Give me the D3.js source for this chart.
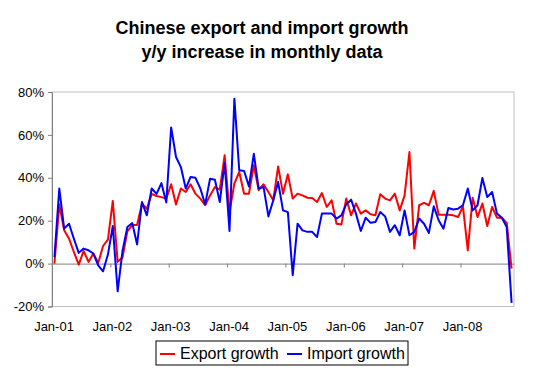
<!DOCTYPE html>
<html>
<head>
<meta charset="utf-8">
<script src="https://cdn.jsdelivr.net/npm/d3@7"></script>
<style>
  body { margin: 0; background: #fff; }
  svg { font-family: "Liberation Sans", Arial, sans-serif; }
</style>
</head>
<body>
<div id="chart"></div>
<script>
// Monthly y/y growth (%), Jan-01 .. Nov-08
const exportGrowth = [
  0, 27.5, 15.5, 11.6, 5.4, -0.5, 5.9, 0.8, 4.7, 0.3, 8.2, 11.2,
  29.2, 0.8, 3, 15, 18, 18, 28, 25.5, 32.5, 31.5, 31, 30.3,
  37, 27.6, 35, 33.4, 37, 32.6, 30.3, 27.2, 31.8, 35.7, 34.5, 50.5,
  24, 37.3, 42.7, 32.6, 32.6, 45.8, 34.2, 37, 33.4, 29.5, 45.3, 32.6,
  41.6, 30.3, 32.6, 31.8, 30.7, 30.6, 28.7, 32.9, 26.4, 29.5, 18.6, 18.2,
  30.3, 22.5, 28, 23.3, 24.8, 23, 22.5, 32.3, 30.3, 29.5, 32.6, 24.8,
  31.8, 52, 7, 27.2, 28.3, 27.2, 33.9, 22.8, 22.8, 22.8, 22.5, 21.7,
  26.7, 6.2, 30.7, 21.7, 28, 17.5, 26.4, 21.4, 21.4, 19, -2.3
];
const importGrowth = [
  3, 35, 16.3, 18.6, 11.6, 5, 7, 6.2, 4.7, -0.8, -3.6, 4.2,
  17.5, -12.9, 5.9, 17.1, 18.9, 8.9, 28.7, 22.5, 35, 32.5, 37.5, 28.5,
  63.5, 49.7, 45, 35, 40.4, 40, 35, 27.6, 39.6, 39.1, 28.7, 46.9,
  15.2, 76.9, 43.5, 43.2, 36, 51.2, 35, 35.7, 22, 29.5, 38, 24.8,
  24, -5.4, 18.6, 15.5, 14.8, 14.8, 12.4, 23.3, 23.3, 23.3, 21, 22.5,
  27.6, 29.8, 23.3, 15.2, 21.4, 19, 19.4, 24, 22, 14.8, 17.9, 13.2,
  24.8, 13.2, 14.8, 21, 18.6, 14.3, 26.7, 20.2, 16.3, 25.9, 25.2, 25.6,
  27.2, 35, 24.8, 27.2, 39.9, 31, 33.4, 23.3, 21.4, 17.1, -18.3
];
const tickLabels = ['Jan-01', 'Jan-02', 'Jan-03', 'Jan-04', 'Jan-05', 'Jan-06', 'Jan-07', 'Jan-08'];
const yTicks = [-20, 0, 20, 40, 60, 80];

const width = 547, height = 374;
const plot = { left: 52, right: 514, top: 92, bottom: 306.5 };

const svg = d3.select('#chart').append('svg')
  .attr('width', width)
  .attr('height', height);

// Title
svg.append('text')
  .attr('x', 262).attr('y', 34)
  .attr('text-anchor', 'middle')
  .style('font-size', '18px').style('font-weight', 'bold')
  .text('Chinese export and import growth');
svg.append('text')
  .attr('x', 262).attr('y', 58)
  .attr('text-anchor', 'middle')
  .style('font-size', '18px').style('font-weight', 'bold')
  .text('y/y increase in monthly data');

// Scales: one slot per month, points in the middle of the slot
const x = d3.scaleLinear().domain([0, exportGrowth.length]).range([plot.left, plot.right]);
const y = d3.scaleLinear().domain([-20, 80]).range([plot.bottom, plot.top]);

// Plot area border
svg.append('rect')
  .attr('x', plot.left).attr('y', plot.top)
  .attr('width', plot.right - plot.left).attr('height', plot.bottom - plot.top)
  .attr('fill', 'none').attr('stroke', '#c0c0c0').attr('stroke-width', 1);

// Y axis
const yAxis = svg.append('g')
  .attr('transform', `translate(${plot.left},0)`)
  .call(d3.axisLeft(y).tickValues(yTicks).tickSize(4).tickPadding(4).tickFormat(d => d + '%'));
yAxis.select('.domain').attr('stroke', '#808080');
yAxis.selectAll('.tick line').attr('stroke', '#808080');
yAxis.selectAll('text').style('font-size', '13px').attr('fill', '#000').attr('font-family', null);

// X axis along 0%
const tickPos = tickLabels.map((d, i) => i * 12);
const xAxis = svg.append('g')
  .attr('transform', `translate(0,${y(0)})`)
  .call(d3.axisBottom(x).tickValues(tickPos).tickSize(4).tickSizeOuter(0).tickFormat(''));
xAxis.select('.domain').attr('stroke', '#808080');
xAxis.selectAll('.tick line').attr('stroke', '#808080');

// Category labels at the bottom of the plot
svg.append('g').selectAll('text')
  .data(tickLabels)
  .enter().append('text')
  .attr('x', (d, i) => x(tickPos[i]) + 2)
  .attr('y', 331)
  .attr('text-anchor', 'middle')
  .style('font-size', '13px')
  .text(d => d);

// Lines
const line = d3.line()
  .x((d, i) => x(i + 0.5))
  .y(d => y(d));

svg.append('path')
  .datum(exportGrowth)
  .attr('fill', 'none').attr('stroke', '#ff0000').attr('stroke-width', 2)
  .attr('stroke-linejoin', 'round')
  .attr('d', line);

svg.append('path')
  .datum(importGrowth)
  .attr('fill', 'none').attr('stroke', '#0000ff').attr('stroke-width', 2)
  .attr('stroke-linejoin', 'round')
  .attr('d', line);

// Legend
const legend = svg.append('g').attr('transform', 'translate(156,341)');
legend.append('rect')
  .attr('width', 252).attr('height', 24)
  .attr('fill', '#fff').attr('stroke', '#000').attr('stroke-width', 1);

const items = [
  { label: 'Export growth', color: '#ff0000', x: 4 },
  { label: 'Import growth', color: '#0000ff', x: 131 }
];
items.forEach(item => {
  legend.append('line')
    .attr('x1', item.x).attr('x2', item.x + 15)
    .attr('y1', 13).attr('y2', 13)
    .attr('stroke', item.color).attr('stroke-width', 2);
  legend.append('text')
    .attr('x', item.x + 20).attr('y', 18)
    .style('font-size', '16px')
    .text(item.label);
});
</script>
</body>
</html>
